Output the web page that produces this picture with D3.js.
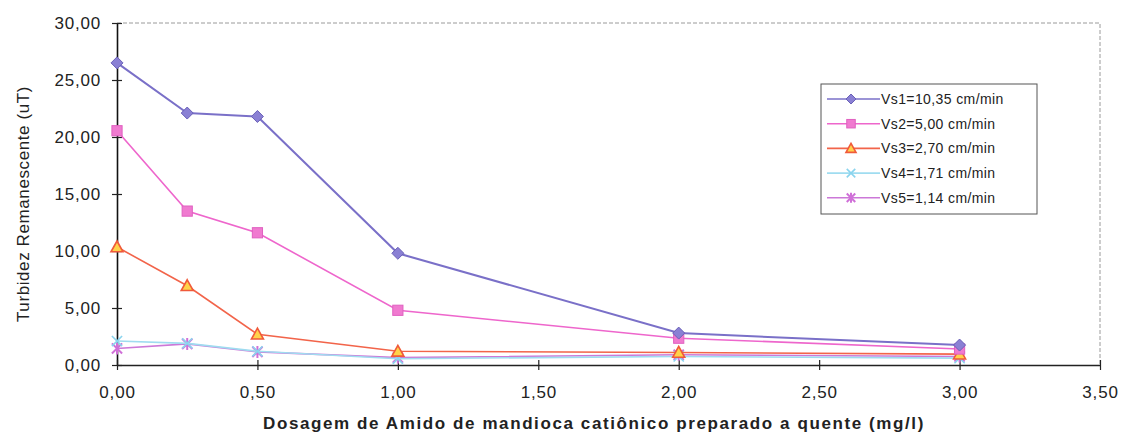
<!DOCTYPE html>
<html>
<head>
<meta charset="utf-8">
<script src="https://cdn.jsdelivr.net/npm/d3@7"></script>
<style>
  html, body { margin: 0; padding: 0; background: #fff; }
  svg { display: block; font-family: "Liberation Sans", Arial, sans-serif; }
</style>
</head>
<body>
<svg id="chart" width="1135" height="439"></svg>
<script>
// Dosage of cationic cassava starch (mg/l)
const dosages = [0, 0.25, 0.5, 1, 2, 3];

// Remaining turbidity (uT) for each settling velocity
const vs1 = [26.5, 22.1, 21.8, 9.8, 2.8, 1.75];
const vs2 = [20.55, 13.5, 11.6, 4.8, 2.35, 1.4];
const vs3 = [10.35, 6.95, 2.7, 1.2, 1.1, 0.95];
const vs4 = [2.1, 1.9, 1.2, 0.55, 0.75, 0.6];
const vs5 = [1.45, 1.85, 1.15, 0.65, 0.9, 0.75];

const seriesNames = ["Vs1=10,35 cm/min", "Vs2=5,00 cm/min", "Vs3=2,70 cm/min", "Vs4=1,71 cm/min", "Vs5=1,14 cm/min"];

const xTicks = [0, 0.5, 1, 1.5, 2, 2.5, 3, 3.5];
const yTicks = [0, 5, 10, 15, 20, 25, 30];

const series = [
  { name: seriesNames[0], values: vs1, line: "#7a70c8", fill: "#8a80d4", stroke: "#6a60b8", shape: "diamond" },
  { name: seriesNames[1], values: vs2, line: "#ee66cc", fill: "#f07ad0", stroke: "#e060c0", shape: "square" },
  { name: seriesNames[2], values: vs3, line: "#f2644a", fill: "#ffd24a", stroke: "#f05a3a", shape: "triangle" },
  { name: seriesNames[3], values: vs4, line: "#9fdcf0", fill: "none", stroke: "#8ad4ee", shape: "x" },
  { name: seriesNames[4], values: vs5, line: "#cc78d8", fill: "none", stroke: "#d070d8", shape: "star" }
];

const svg = d3.select("#chart");
const m = { left: 117, right: 1100, top: 23, bottom: 365 };

const x = d3.scaleLinear().domain([0, 3.5]).range([m.left, m.right]);
const y = d3.scaleLinear().domain([0, 30]).range([m.bottom, m.top]);
const fmt = v => d3.format(".2f")(v).replace(".", ",");

// Plot frame: dashed top and right edges
svg.append("path")
  .attr("d", `M${m.left},${m.top}H${m.right}V${m.bottom}`)
  .attr("fill", "none")
  .attr("stroke", "#9a9a9a")
  .attr("stroke-width", 1)
  .attr("stroke-dasharray", "4,2");

// Y axis
const yAxis = svg.append("g").attr("transform", `translate(${m.left},0)`)
  .call(d3.axisLeft(y).tickValues(yTicks).tickFormat(fmt).tickSize(0).tickPadding(16));
yAxis.select(".domain").attr("stroke", "#111").attr("stroke-width", 1.6);
yAxis.selectAll(".tick").append("line").attr("x1", -5).attr("x2", 5).attr("stroke", "#222").attr("stroke-width", 1.2);
yAxis.selectAll("text").attr("font-size", 17).attr("letter-spacing", 0.8).attr("fill", "#222");

// X axis
const xAxis = svg.append("g").attr("transform", `translate(0,${m.bottom})`)
  .call(d3.axisBottom(x).tickValues(xTicks).tickFormat(fmt).tickSize(0).tickPadding(21));
xAxis.select(".domain").attr("stroke", "#222").attr("stroke-width", 1.4);
xAxis.selectAll(".tick").append("line").attr("y1", -5).attr("y2", 5).attr("stroke", "#222").attr("stroke-width", 1.2);
xAxis.selectAll("text").attr("font-size", 17).attr("letter-spacing", 0.8).attr("fill", "#222");

// Axis titles
svg.append("text")
  .attr("transform", `translate(29,${(m.top + m.bottom) / 2 + 10}) rotate(-90)`)
  .attr("text-anchor", "middle")
  .attr("font-size", 17)
  .attr("letter-spacing", 0.6)
  .attr("fill", "#222")
  .text("Turbidez Remanescente (uT)");

svg.append("text")
  .attr("x", 594).attr("y", 429)
  .attr("text-anchor", "middle")
  .attr("font-size", 17)
  .attr("font-weight", "bold")
  .attr("letter-spacing", 1.6)
  .attr("fill", "#222")
  .text("Dosagem de Amido de mandioca catiônico preparado a quente (mg/l)");

// Marker drawing
function drawMarker(g, s, size) {
  const r = size;
  if (s.shape === "diamond") {
    g.append("path").attr("d", `M0,${-r}L${r},0L0,${r}L${-r},0Z`)
      .attr("fill", s.fill).attr("stroke", s.stroke).attr("stroke-width", 1);
  } else if (s.shape === "square") {
    g.append("rect").attr("x", -r * 0.85).attr("y", -r * 0.85).attr("width", r * 1.7).attr("height", r * 1.7)
      .attr("fill", s.fill).attr("stroke", s.stroke).attr("stroke-width", 1);
  } else if (s.shape === "triangle") {
    g.append("path").attr("d", `M0,${-r}L${r},${r * 0.8}L${-r},${r * 0.8}Z`)
      .attr("fill", s.fill).attr("stroke", s.stroke).attr("stroke-width", 1.6);
  } else if (s.shape === "x") {
    const a = r * 0.85;
    g.append("path").attr("d", `M${-a},${-a}L${a},${a}M${-a},${a}L${a},${-a}`)
      .attr("stroke", s.stroke).attr("stroke-width", 1.6);
  } else if (s.shape === "star") {
    const a = r * 0.85;
    g.append("path").attr("d", `M${-a},${-a}L${a},${a}M${-a},${a}L${a},${-a}M0,${-r}L0,${r}`)
      .attr("stroke", s.stroke).attr("stroke-width", 2);
  }
}

const line = d3.line().x((d, i) => x(dosages[i])).y(d => y(d));

// Series lines and markers (drawn last-to-first so Vs1 stays on top)
series.slice().reverse().forEach(s => {
  svg.append("path").datum(s.values)
    .attr("d", line)
    .attr("fill", "none")
    .attr("stroke", s.line)
    .attr("stroke-width", s.shape === "diamond" ? 2 : 1.6);
  s.values.forEach((v, i) => {
    const g = svg.append("g").attr("transform", `translate(${x(dosages[i])},${y(v)})`);
    drawMarker(g, s, 6);
  });
});

// Legend
const lg = svg.append("g").attr("transform", "translate(821,84)");
lg.append("rect").attr("width", 216).attr("height", 130)
  .attr("fill", "#fff").attr("stroke", "#555").attr("stroke-width", 1);
series.forEach((s, i) => {
  const row = lg.append("g").attr("transform", `translate(0,${15 + i * 24.7})`);
  row.append("line").attr("x1", 6).attr("x2", 59).attr("stroke", s.line).attr("stroke-width", 1.6);
  drawMarker(row.append("g").attr("transform", "translate(30,0)"), s, 5);
  row.append("text").attr("x", 60).attr("y", 5)
    .attr("font-size", 14).attr("letter-spacing", 0.4).attr("fill", "#222")
    .text(s.name);
});
</script>
</body>
</html>
